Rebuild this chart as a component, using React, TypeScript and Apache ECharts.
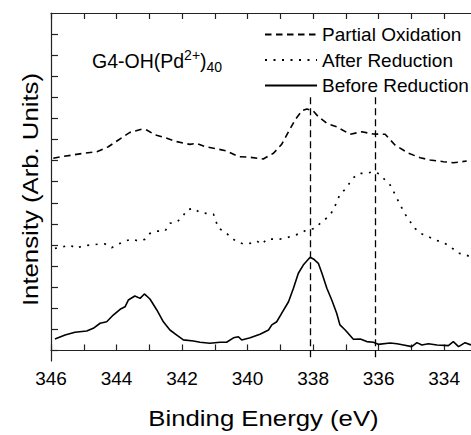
import React, { useEffect, useRef } from "react";
import * as echarts from "echarts";

// Binding energy (eV) and intensity (arb. units, offset traces)
const partialEnergy = [345.93,345.67,345.32,345.01,344.60,344.25,343.94,343.59,343.23,343.08,342.82,342.52,342.16,341.76,341.55,341.30,341.04,340.64,340.28,339.92,339.52,339.21,338.96,338.75,338.55,338.34,338.19,337.99,337.84,337.58,337.28,336.87,336.51,336.16,335.80,335.50,335.09,334.73,334.43,334.02,333.72,333.31];
const partialIntensity = [9.11,9.19,9.27,9.35,9.42,9.66,9.98,10.34,10.49,10.45,10.22,10.09,9.90,9.77,9.82,9.66,9.59,9.46,9.19,9.16,9.08,9.35,9.77,10.37,10.93,11.37,11.45,11.35,11.08,10.77,10.60,10.25,10.37,10.26,10.25,9.74,9.35,9.14,9.03,8.95,8.90,8.98];

const afterEnergy = [345.88,345.62,345.42,345.24,345.01,344.76,344.50,344.35,344.15,343.99,343.79,343.54,343.33,343.13,342.98,342.77,342.52,342.37,342.16,341.96,341.86,341.65,341.47,341.27,341.04,340.89,340.69,340.48,340.33,340.13,339.92,339.72,339.57,339.41,339.21,339.01,338.80,338.60,338.40,338.21,337.94,337.73,337.53,337.38,337.28,337.18,337.02,336.89,336.77,336.59,336.36,336.16,335.98,335.80,335.65,335.50,335.34,335.19,335.04,334.89,334.73,334.53,334.33,334.12,333.92,333.72,333.56,333.41,333.21];
const afterIntensity = [4.84,4.92,5.00,4.84,4.97,5.00,5.05,5.05,4.87,5.00,5.16,5.28,5.19,5.27,5.55,5.66,5.66,6.03,6.08,6.39,6.66,6.74,6.55,6.50,6.46,5.79,5.63,5.32,5.16,5.05,5.08,5.19,5.03,5.28,5.28,5.28,5.35,5.44,5.55,5.71,5.79,6.11,6.34,6.66,7.04,7.40,7.64,7.93,8.19,8.40,8.40,8.48,8.37,8.08,7.85,7.40,6.90,6.46,6.11,5.79,5.55,5.44,5.28,5.16,5.03,4.81,4.61,4.57,4.45];

const beforeEnergy = [345.88,345.57,345.27,344.91,344.71,344.50,344.30,344.10,343.89,343.74,343.64,343.44,343.28,343.15,342.98,342.77,342.57,342.37,342.16,341.96,341.65,341.45,341.15,340.84,340.64,340.43,340.28,340.18,339.92,339.62,339.36,339.26,339.11,338.96,338.75,338.60,338.45,338.30,338.09,337.99,337.84,337.73,337.58,337.43,337.28,337.18,337.02,336.77,336.56,336.36,336.16,336.01,335.65,335.44,335.24,334.99,334.83,334.68,334.48,334.22,333.87,333.72,333.56,333.36,333.18];
const beforeIntensity = [0.54,0.73,0.86,0.92,1.05,1.29,1.36,1.68,1.95,2.07,2.39,2.58,2.47,2.68,2.44,1.92,1.36,0.97,0.73,0.50,0.45,0.39,0.34,0.39,0.39,0.60,0.65,0.50,0.60,0.77,0.97,1.21,1.36,1.76,2.31,2.95,3.66,4.05,4.42,4.34,4.13,3.66,2.95,2.39,1.76,1.21,0.97,0.53,0.54,0.42,0.39,0.29,0.35,0.32,0.26,0.18,0.37,0.26,0.32,0.26,0.23,0.42,0.18,0.37,0.26];

const seriesNames = ["Partial Oxidation", "After Reduction", "Before Reduction"];
const referenceLines = [338.1, 336.1];
const referenceLineTop = 12;
const xTickValues = [334, 335, 336, 337, 338, 339, 340, 341, 342, 343, 344, 345, 346];
const xLabelValues = [334, 336, 338, 340, 342, 344, 346];
const yTickValues = [0, 1, 2, 3, 4, 5, 6, 7, 8, 9, 10, 11, 12, 13, 14, 15];
const xMin = 333.18;
const xMax = 346;
const yMin = -0.5;
const yMax = 16;

const pair = (e: number[], v: number[]) => e.map((x, i) => [x, v[i]]);

const FONT = "Liberation Sans, Arial, Helvetica, sans-serif";

export default function App() {
  const ref = useRef<HTMLDivElement>(null);
  useEffect(() => {
    if (!ref.current) return;
    const chart = echarts.init(ref.current, null, { renderer: "svg" });
    const axisLine = { show: true, lineStyle: { color: "#222", width: 1.2 } };
    const xCommon = {
      type: "value",
      inverse: true,
      min: xMin,
      max: xMax,
      splitLine: { show: false },
      axisLine,
    };
    chart.setOption({
      animation: false,
      backgroundColor: "#fff",
      grid: { left: 51, right: 0, top: 13, bottom: 74, containLabel: false },
      legend: {
        orient: "vertical",
        left: 264,
        top: 25,
        padding: 0,
        itemWidth: 52,
        itemHeight: 14,
        itemGap: 6.5,
        selectedMode: false,
        data: seriesNames,
        itemStyle: { opacity: 0 },
        textStyle: { fontFamily: FONT, fontSize: 19, color: "#000" },
      },
      xAxis: [
        {
          ...xCommon,
          position: "bottom",
          axisTick: { show: true, inside: true, length: 6, customValues: xTickValues, lineStyle: { color: "#222", width: 1.2 } },
          axisLabel: {
            show: true,
            customValues: xLabelValues,
            margin: 8,
            fontFamily: FONT,
            fontSize: 19,
            color: "#000",
            formatter: (v: number) => (Math.abs(v - Math.round(v)) < 1e-6 && Math.round(v) % 2 === 0 ? String(Math.round(v)) : ""),
          },
        },
        {
          ...xCommon,
          position: "top",
          axisTick: { show: true, inside: true, length: 6, customValues: xTickValues, lineStyle: { color: "#222", width: 1.2 } },
          axisLabel: { show: false },
        },
      ],
      yAxis: {
        type: "value",
        min: yMin,
        max: yMax,
        splitLine: { show: false },
        axisLine,
        axisTick: { show: true, inside: true, length: 7, customValues: yTickValues, lineStyle: { color: "#222", width: 1.2 } },
        axisLabel: { show: false },
      },
      series: [
        {
          name: seriesNames[0],
          type: "line",
          data: pair(partialEnergy, partialIntensity),
          symbol: "none",
          showSymbol: false,
          lineStyle: { color: "#000", width: 1.6, type: [6.5, 4.5] },
          itemStyle: { color: "#000" },
        },
        {
          name: seriesNames[1],
          type: "line",
          data: pair(afterEnergy, afterIntensity),
          symbol: "none",
          showSymbol: false,
          lineStyle: { color: "#000", width: 1.7, type: [2, 6.5] },
          itemStyle: { color: "#000" },
        },
        {
          name: seriesNames[2],
          type: "line",
          data: pair(beforeEnergy, beforeIntensity),
          symbol: "none",
          showSymbol: false,
          lineStyle: { color: "#000", width: 1.6, type: "solid" },
          itemStyle: { color: "#000" },
          markLine: {
            silent: true,
            symbol: ["none", "none"],
            label: { show: false },
            lineStyle: { color: "#000", width: 1.3, type: [7, 4] },
            data: referenceLines.map((e) => [
              { coord: [e, referenceLineTop] },
              { coord: [e, yMin] },
            ]),
          },
        },
      ],
      graphic: [
        {
          type: "text",
          x: 263.5,
          y: 418.5,
          scaleX: 1.17,
          style: {
            text: "Binding Energy (eV)",
            font: `22px ${FONT}`,
            fill: "#000",
            align: "center",
            verticalAlign: "middle",
            textAlign: "center",
            textVerticalAlign: "middle",
          },
        },
        {
          type: "text",
          x: 30.3,
          y: 189.5,
          rotation: Math.PI / 2,
          scaleX: 1.17,
          style: {
            text: "Intensity (Arb. Units)",
            font: `22px ${FONT}`,
            fill: "#000",
            align: "center",
            verticalAlign: "middle",
            textAlign: "center",
            textVerticalAlign: "middle",
          },
        },
        {
          type: "text",
          x: 92,
          y: 60.8,
          style: {
            text: "{a|G4-OH(Pd}{sup|2+}{a|)}{sub|40}",
            fill: "#000",
            align: "left",
            verticalAlign: "middle",
            textAlign: "left",
            textVerticalAlign: "middle",
            rich: {
              a: { fontFamily: FONT, fontSize: 19.5, lineHeight: 26, verticalAlign: "middle", fill: "#000" },
              sup: { fontFamily: FONT, fontSize: 14, lineHeight: 14, verticalAlign: "top", fill: "#000" },
              sub: { fontFamily: FONT, fontSize: 14, lineHeight: 14, verticalAlign: "bottom", fill: "#000" },
            },
          },
        },
      ],
    });
    return () => chart.dispose();
  }, []);
  return (
    <div
      ref={ref}
      style={{ position: "fixed", left: 0, top: 0, width: 471, height: 435, background: "#fff" }}
    />
  );
}
